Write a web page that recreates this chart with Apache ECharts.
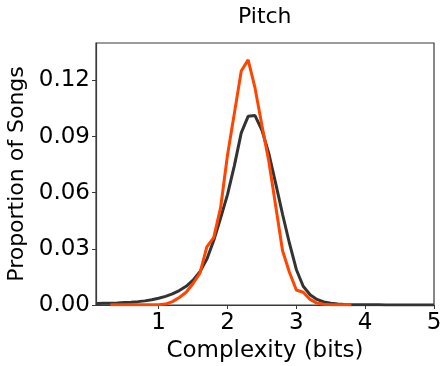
<!DOCTYPE html>
<html>
<head>
<meta charset="utf-8">
<script src="https://cdn.jsdelivr.net/npm/echarts@6/dist/echarts.min.js"></script>
<style>
    html, body { margin: 0; padding: 0; background: #fff; }
    #pitchChart { width: 448px; height: 366px; }
</style>
</head>
<body>
<div id="pitchChart"></div>
<script>
// complexity (bits) for the overall distribution (dark line)
const allBits = [
    0.1, 0.2, 0.3, 0.4, 0.5, 0.6, 0.7, 0.8, 0.9, 1.0,
    1.1, 1.2, 1.3, 1.4, 1.5, 1.6, 1.7, 1.8, 1.9, 2.0,
    2.1, 2.2, 2.3, 2.4, 2.5, 2.6, 2.7, 2.8, 2.9, 3.0,
    3.1, 3.2, 3.3, 3.4, 3.5, 3.6, 3.7, 3.8, 3.9, 4.0,
    4.1, 4.2, 4.3, 4.4, 4.5, 4.6, 4.7, 4.8, 4.9, 5.0
];
const allShare = [
    0.0008, 0.0009, 0.0010, 0.0011, 0.0013, 0.0015, 0.0018, 0.0022, 0.0028, 0.0036,
    0.0046, 0.0059, 0.0077, 0.0100, 0.0133, 0.0178, 0.0245, 0.0345, 0.0465, 0.0590,
    0.0745, 0.0920, 0.1008, 0.1012, 0.0935, 0.0810, 0.0650, 0.0485, 0.0330, 0.0190,
    0.0100, 0.0055, 0.0030, 0.0016, 0.0009, 0.0005, 0.0003, 0.0002, 0.0001, 0.0001,
    0.0001, 0.0001, 0.0000, 0.0000, 0.0000, 0.0000, 0.0000, 0.0000, 0.0000, 0.0000
];

// complexity (bits) for the highlighted subset (orange line)
const subsetBits = [
    0.3, 0.4, 0.5, 0.6, 0.7, 0.8, 0.9, 1.0,
    1.1, 1.2, 1.3, 1.4, 1.5, 1.6, 1.7, 1.8, 1.9, 2.0,
    2.1, 2.2, 2.3, 2.4, 2.5, 2.6, 2.7, 2.8, 2.9, 3.0,
    3.1, 3.2, 3.3, 3.4, 3.5, 3.6, 3.7, 3.8
];
const subsetShare = [
    0.0001, 0.0001, 0.0001, 0.0001, 0.0001, 0.0001, 0.0001, 0.0002,
    0.0005, 0.0018, 0.0040, 0.0068, 0.0115, 0.0170, 0.0310, 0.0360, 0.0520, 0.0800,
    0.1025, 0.1250, 0.1310, 0.1160, 0.0960, 0.0770, 0.0530, 0.0290, 0.0175, 0.0080,
    0.0068, 0.0030, 0.0010, 0.0004, 0.0002, 0.0001, 0.0001, 0.0001
];

const xTicks = [1, 2, 3, 4, 5];
const yTicks = [0, 0.03, 0.06, 0.09, 0.12];

window.onload = () => {
    new PitchChart().main();
};

class PitchChart {
    chart;

    main() {
        this.chart = echarts.init(document.getElementById('pitchChart'), null, { renderer: 'canvas' });
        this.chart.setOption(this.buildOption());
    }

    pairs(xs, ys) {
        return xs.map((x, i) => [x, ys[i]]);
    }

    buildOption() {
        let font = 'DejaVu Sans';
        let frame = '#3a3a3a';
        let size = 23;

        return {
            animation: false,
            backgroundColor: '#ffffff',
            title: {
                text: 'Pitch',
                left: 233,
                top: 1,
                textStyle: { fontFamily: font, fontSize: 22, fontWeight: 'normal', color: '#000' }
            },
            grid: {
                left: 96, right: 14, top: 43, bottom: 61,
                outerBoundsMode: 'none',
                containLabel: false,
                show: true, borderColor: frame, borderWidth: 1.2
            },
            xAxis: {
                type: 'value',
                min: 0.09, max: 5,
                name: 'Complexity (bits)',
                nameLocation: 'middle',
                nameGap: 29,
                nameTextStyle: { fontFamily: font, fontSize: size, color: '#000' },
                axisLine: { show: true, lineStyle: { color: frame, width: 1.2 } },
                axisTick: { show: true, length: 4, lineStyle: { color: frame }, customValues: xTicks },
                axisLabel: { fontFamily: font, fontSize: size, color: '#000', margin: 7, customValues: xTicks },
                splitLine: { show: false }
            },
            yAxis: {
                type: 'value',
                min: 0, max: 0.14,
                name: 'Proportion of Songs',
                nameLocation: 'middle',
                nameGap: 68,
                nameTextStyle: { fontFamily: font, fontSize: 22, color: '#000' },
                axisLine: { show: true, lineStyle: { color: frame, width: 1.2 } },
                axisTick: { show: true, length: 4, lineStyle: { color: frame }, customValues: yTicks },
                axisLabel: {
                    fontFamily: font, fontSize: size, color: '#000', margin: 6,
                    customValues: yTicks,
                    formatter: v => v.toFixed(2)
                },
                splitLine: { show: false }
            },
            series: [
                {
                    name: 'All songs',
                    type: 'line',
                    data: this.pairs(allBits, allShare),
                    showSymbol: false,
                    lineStyle: { color: '#333333', width: 3 },
                    itemStyle: { color: '#333333' }
                },
                {
                    name: 'Subset',
                    type: 'line',
                    data: this.pairs(subsetBits, subsetShare),
                    showSymbol: false,
                    lineStyle: { color: '#ff4500', width: 3 },
                    itemStyle: { color: '#ff4500' }
                }
            ]
        };
    }
}
</script>
</body>
</html>
